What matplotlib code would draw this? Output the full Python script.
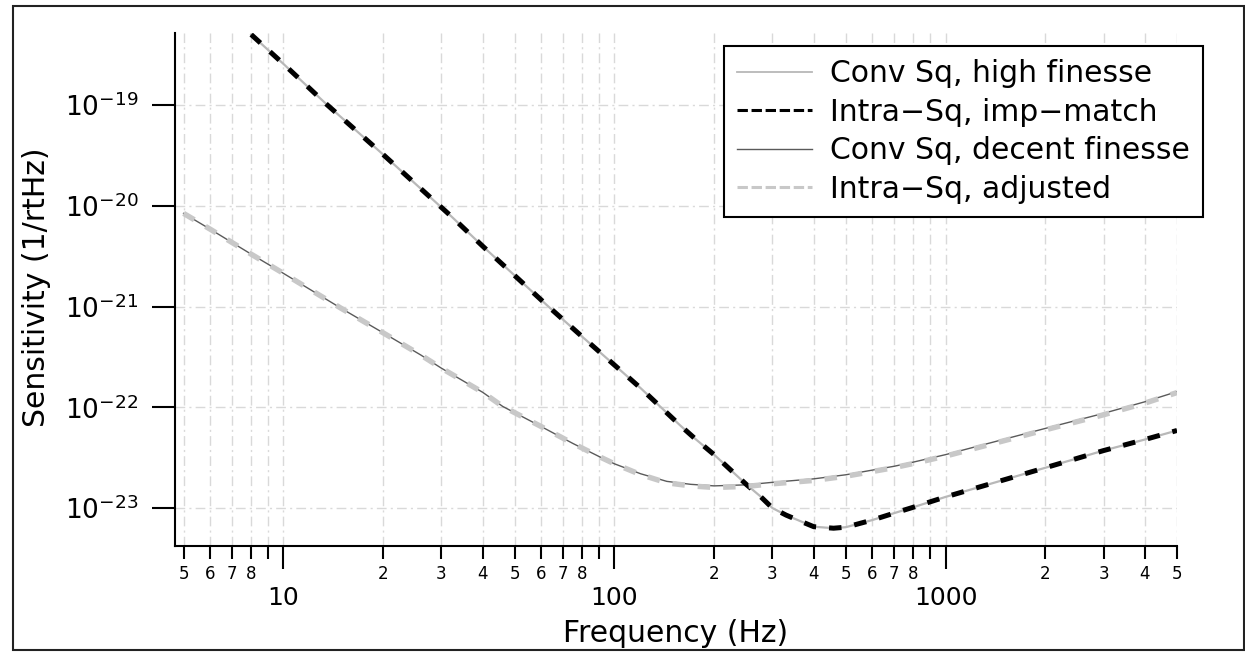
import matplotlib
matplotlib.use("Agg")
import matplotlib.pyplot as plt
from matplotlib.lines import Line2D
from matplotlib.patches import Rectangle
from matplotlib.ticker import FixedLocator, FixedFormatter, NullLocator

plt.rcParams['font.family'] = ['DejaVu Sans']
plt.rcParams['mathtext.fontset'] = 'dejavusans'

# Steep curves: conventional squeezing (high finesse) and intra-cavity squeezing (impedance matched)
freq_steep = [8, 10, 13.5, 20, 32.3, 40, 63.2, 80, 100, 120, 158, 175, 200, 251, 275,
              300, 330, 363, 400, 459, 500, 600, 700, 800, 1000, 2000, 3000, 4000, 5000]
sens_conv_high = [5.01e-19, 2.57e-19, 1.02e-19, 3.24e-20, 7.76e-21, 3.98e-21, 1.00e-21,
                  5.01e-22, 2.63e-22, 1.55e-22, 6.61e-23, 4.90e-23, 3.39e-23, 1.70e-23,
                  1.32e-23, 1.00e-23, 8.51e-24, 7.45e-24, 6.53e-24, 6.31e-24, 6.46e-24,
                  7.59e-24, 8.91e-24, 1.02e-23, 1.29e-23, 2.51e-23, 3.72e-23, 4.79e-23,
                  5.89e-23]
sens_intra_imp = [5.01e-19, 2.57e-19, 1.02e-19, 3.24e-20, 7.76e-21, 3.98e-21, 1.00e-21,
                  5.01e-22, 2.63e-22, 1.55e-22, 6.61e-23, 4.90e-23, 3.39e-23, 1.70e-23,
                  1.32e-23, 1.00e-23, 8.51e-24, 7.45e-24, 6.53e-24, 6.31e-24, 6.46e-24,
                  7.59e-24, 8.91e-24, 1.02e-23, 1.29e-23, 2.51e-23, 3.72e-23, 4.79e-23,
                  5.89e-23]

# Shallow curves: conventional squeezing (decent finesse) and intra-cavity squeezing (adjusted)
freq_shallow = [5, 6, 8, 10, 15, 20, 26, 30, 40, 46, 60, 75, 90, 100, 120, 144, 170, 200,
                250, 300, 400, 500, 700, 800, 1000, 2000, 3000, 4000, 5000]
sens_conv_decent = [8.41e-21, 5.89e-21, 3.31e-21, 2.14e-21, 9.55e-22, 5.50e-22, 3.31e-22,
                    2.45e-22, 1.41e-22, 1.02e-22, 6.46e-23, 4.37e-23, 3.24e-23, 2.75e-23,
                    2.19e-23, 1.84e-23, 1.72e-23, 1.66e-23, 1.70e-23, 1.80e-23, 1.95e-23,
                    2.14e-23, 2.60e-23, 2.86e-23, 3.39e-23, 6.17e-23, 8.71e-23, 1.135e-22,
                    1.43e-22]
sens_intra_adj = [8.41e-21, 5.89e-21, 3.31e-21, 2.14e-21, 9.55e-22, 5.50e-22, 3.31e-22,
                  2.45e-22, 1.41e-22, 1.02e-22, 6.46e-23, 4.37e-23, 3.24e-23, 2.75e-23,
                  2.15e-23, 1.78e-23, 1.66e-23, 1.60e-23, 1.64e-23, 1.74e-23, 1.88e-23,
                  2.07e-23, 2.52e-23, 2.77e-23, 3.28e-23, 5.97e-23, 8.43e-23, 1.10e-22,
                  1.40e-22]

series_labels = ["Conv Sq, high finesse", "Intra\u2212Sq, imp\u2212match",
                 "Conv Sq, decent finesse", "Intra\u2212Sq, adjusted"]

major_x = [10, 100, 1000]
major_x_labels = ["10", "100", "1000"]
minor_x = [5, 6, 7, 8, 9, 20, 30, 40, 50, 60, 70, 80, 90,
           200, 300, 400, 500, 600, 700, 800, 900, 2000, 3000, 4000, 5000]
minor_x_labels = ["5", "6", "7", "8", "", "2", "3", "4", "5", "6", "7", "8", "",
                  "2", "3", "4", "5", "6", "7", "8", "", "2", "3", "4", "5"]
y_ticks = [1e-23, 1e-22, 1e-21, 1e-20, 1e-19]
y_tick_labels = [r"$10^{-23}$", r"$10^{-22}$", r"$10^{-21}$", r"$10^{-20}$", r"$10^{-19}$"]

W, H = 1245, 653
fig = plt.figure(figsize=(W / 100, H / 100), dpi=100, facecolor="white")
ax = fig.add_axes([175 / W, 1 - 545.5 / H, (1177 - 175) / W, (545.5 - 33) / H])

ax.set_xscale("log")
ax.set_yscale("log")

light = "#b8b8b8"
pale = "#c8c8c8"
dark = "#5a5a5a"

ax.plot(freq_steep, sens_conv_high, color=light, lw=1.6, zorder=3)
ax.plot(freq_steep, sens_intra_imp, color="black", lw=3.6, dashes=(2.5, 2.6),
        dash_capstyle="butt", zorder=4)
ax.plot(freq_shallow, sens_conv_decent, color=dark, lw=1.0, zorder=3)
ax.plot(freq_shallow, sens_intra_adj, color=pale, lw=3.9, dashes=(2.3, 2.4),
        dash_capstyle="butt", zorder=4)

ax.set_xlim(4.71, 5000)
ax.set_ylim(4.25e-24, 5.19e-19)

# grid: dash-dot, every x tick, y decades only
grid_style = dict(color="#d9d9d9", lw=1.0, linestyle=(0, (7, 3, 1.5, 3)))
ax.set_axisbelow(True)
ax.grid(True, which="both", axis="x", **grid_style)
ax.grid(True, which="major", axis="y", **grid_style)

for side in ("top", "right"):
    ax.spines[side].set_visible(False)
for side in ("left", "bottom"):
    ax.spines[side].set_linewidth(1.5)
    ax.spines[side].set_color("black")

ax.xaxis.set_major_locator(FixedLocator(major_x))
ax.xaxis.set_major_formatter(FixedFormatter(major_x_labels))
ax.xaxis.set_minor_locator(FixedLocator(minor_x))
ax.xaxis.set_minor_formatter(FixedFormatter(minor_x_labels))
ax.tick_params(axis="x", which="major", length=16.5, width=1.5, labelsize=18, pad=13)
ax.tick_params(axis="x", which="minor", length=9.3, width=1.5, labelsize=12, pad=5)

ax.yaxis.set_major_locator(FixedLocator(y_ticks))
ax.yaxis.set_major_formatter(FixedFormatter(y_tick_labels))
ax.yaxis.set_minor_locator(NullLocator())
ax.tick_params(axis="y", which="major", length=16.5, width=1.5, labelsize=19, pad=10)

ax.set_xlabel("Frequency (Hz)", fontsize=21.5)
ax.xaxis.set_label_coords(0.5, -0.143)
ax.set_ylabel("Sensitivity (1/rtHz)", fontsize=21.5)
ax.yaxis.set_label_coords(-0.124, 0.504)

handles = [
    Line2D([], [], color=light, lw=1.3),
    Line2D([], [], color="black", lw=2.2, dashes=(3.4, 1.2), dash_capstyle="butt"),
    Line2D([], [], color=dark, lw=1.0),
    Line2D([], [], color=pale, lw=2.2, dashes=(3.4, 1.2), dash_capstyle="butt"),
]
leg = ax.legend(handles, series_labels, loc="upper right",
                bbox_to_anchor=(1203 / W, 1 - 45.6 / H), bbox_transform=fig.transFigure,
                borderaxespad=0, frameon=True, fancybox=False, shadow=False,
                edgecolor="black", framealpha=1, fontsize=21.5, handlelength=2.5,
                handletextpad=0.6, labelspacing=0.32, borderpad=0.45)
leg.get_frame().set_linewidth(1.5)
leg.set_zorder(10)

# frame around the whole figure
fig.patches.append(Rectangle((13.3 / W, 3 / H), (1244 - 13.3) / W, (649 - 4.5) / H,
                             transform=fig.transFigure, fill=False,
                             edgecolor="#222222", lw=1.5))

fig.savefig("out.png", dpi=100, facecolor="white")
